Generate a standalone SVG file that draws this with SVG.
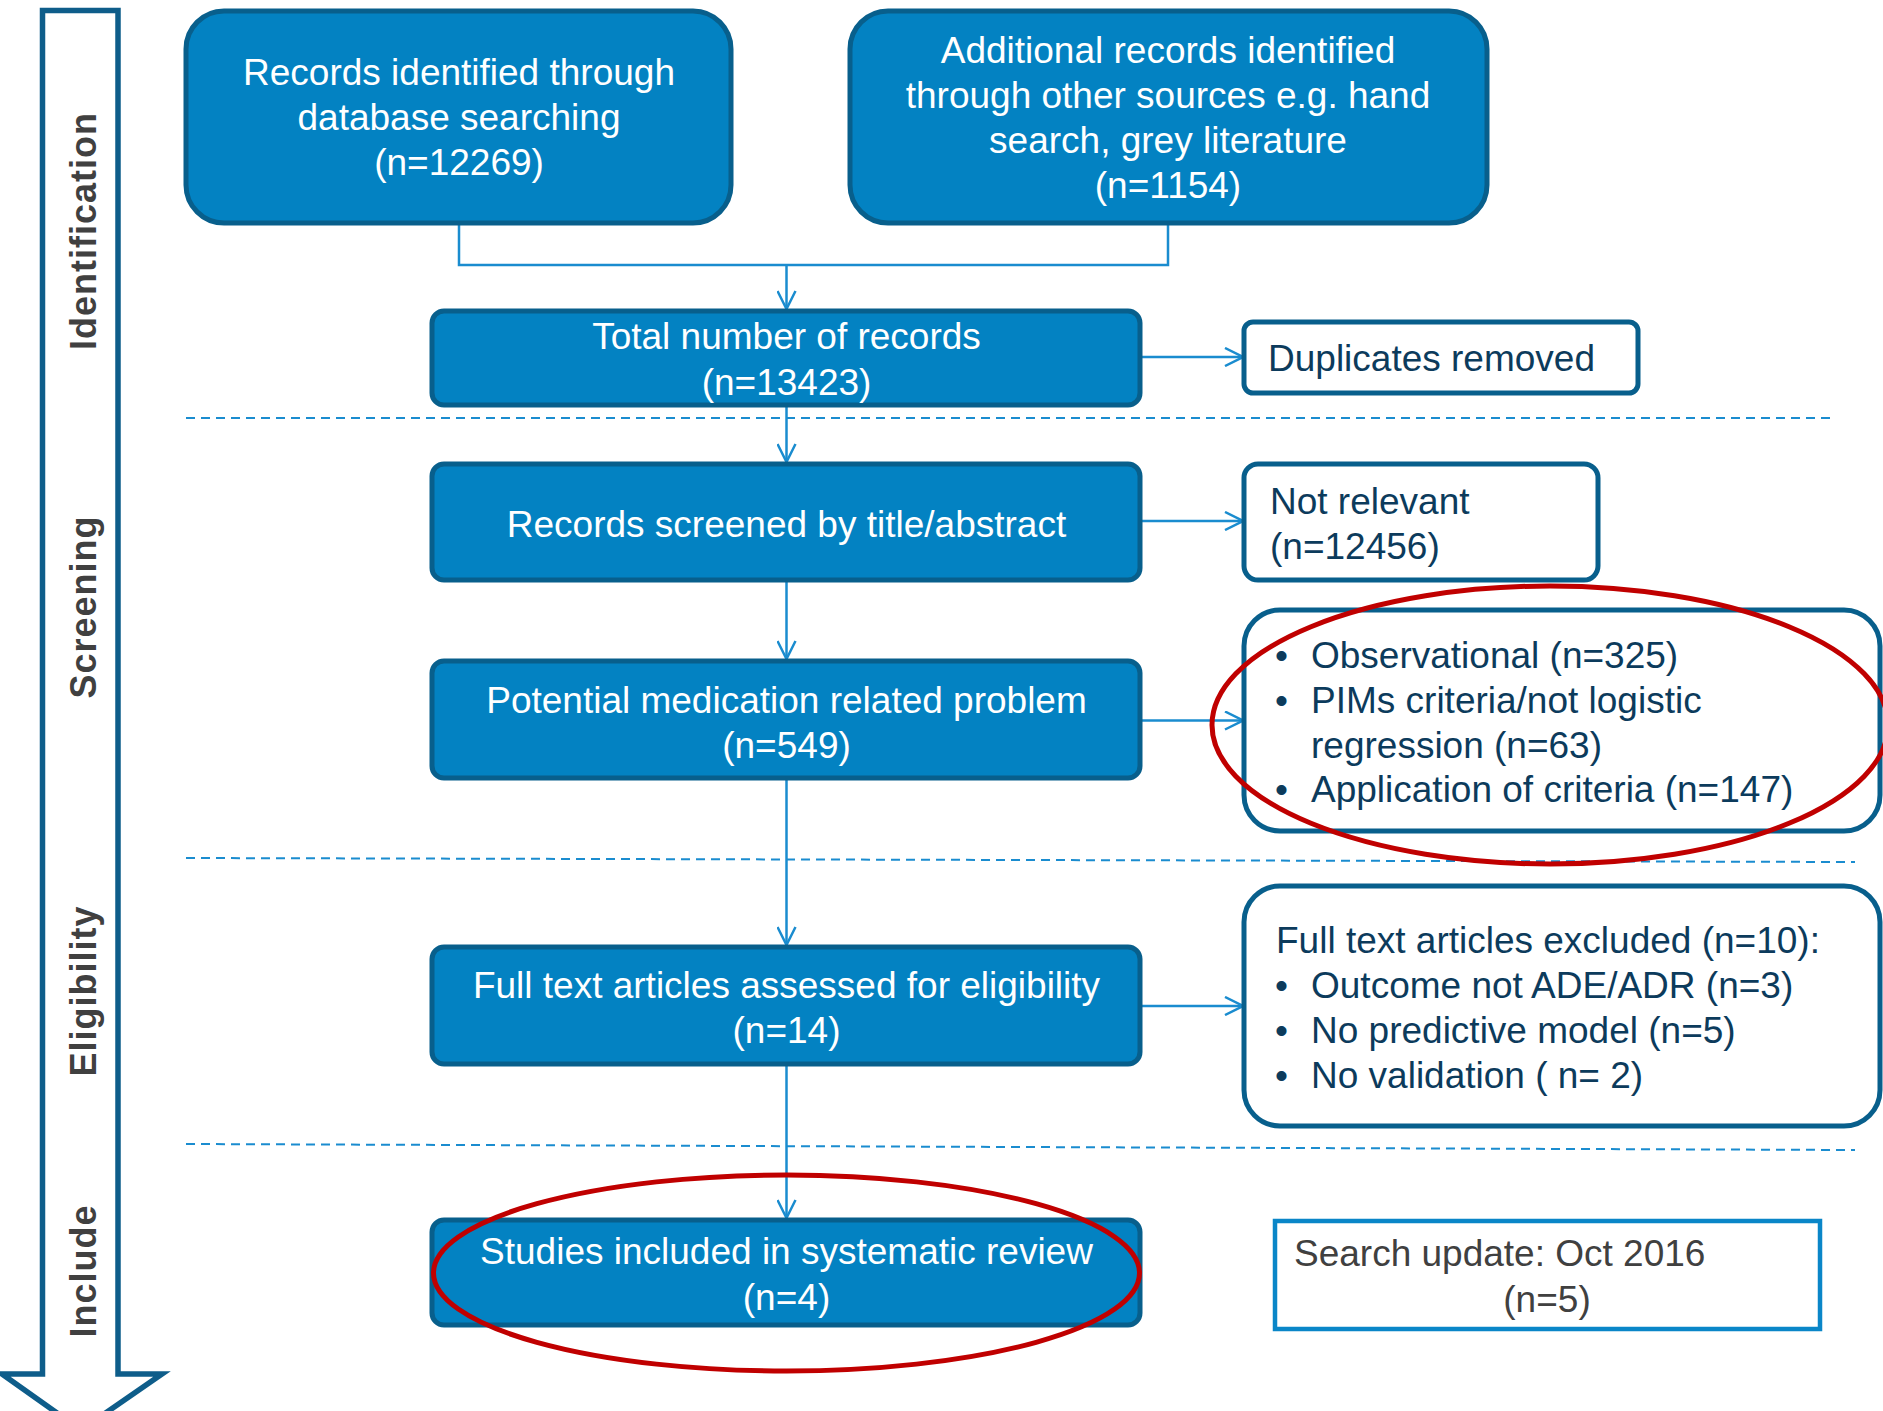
<svg xmlns="http://www.w3.org/2000/svg" width="1883" height="1411" viewBox="0 0 1883 1411">
<defs>
<style>
.bx{fill:#0382c2;stroke:#085f8c;stroke-width:5}
.wb{fill:#ffffff;stroke:#085f8c;stroke-width:5}
.wt{font-family:"Liberation Sans",Arial,sans-serif;font-size:37px;fill:#ffffff;text-anchor:middle}
.dt{font-family:"Liberation Sans",Arial,sans-serif;font-size:37px;fill:#0c3b5c}
.ph{font-family:"Liberation Sans",Arial,sans-serif;font-size:36px;font-weight:bold;fill:#404040;text-anchor:middle;letter-spacing:1px}
.cn{fill:none;stroke:#1a8ccf;stroke-width:2.5}
.ds{fill:none;stroke:#1a8ccf;stroke-width:2;stroke-dasharray:9 6}
.el{fill:none;stroke:#c00000;stroke-width:5}
</style>
<marker id="arr" viewBox="0 0 20 20" refX="19" refY="10" markerWidth="20" markerHeight="20" markerUnits="userSpaceOnUse" orient="auto">
<path d="M1,1 L19,10 L1,19" fill="none" stroke="#1a8ccf" stroke-width="2.5"/>
</marker>
</defs>
<rect width="1883" height="1411" fill="#ffffff"/>
<g id="phase-arrow">
<polygon points="42.5,10.5 118,10.5 118,1374 162,1374 81,1430 2,1374 42.5,1374" fill="#ffffff" stroke="#0e5d8a" stroke-width="5.5"/>
<text class="ph" transform="translate(96,231) rotate(-90)">Identification</text>
<text class="ph" transform="translate(96,607) rotate(-90)">Screening</text>
<text class="ph" transform="translate(96,991) rotate(-90)">Eligibility</text>
<text class="ph" transform="translate(96,1271) rotate(-90)">Include</text>
</g>
<g id="dividers">
<line class="ds" x1="186" y1="418" x2="1834" y2="418"/>
<line class="ds" x1="186" y1="858" x2="1855" y2="862"/>
<line class="ds" x1="186" y1="1144" x2="1855" y2="1150"/>
</g>
<g id="connectors">
<polyline class="cn" points="459,223 459,265 1168,265 1168,223"/>
<line class="cn" x1="786.5" y1="265" x2="786.5" y2="309" marker-end="url(#arr)"/>
<line class="cn" x1="786.5" y1="405" x2="786.5" y2="462" marker-end="url(#arr)"/>
<line class="cn" x1="786.5" y1="580" x2="786.5" y2="659" marker-end="url(#arr)"/>
<line class="cn" x1="786.5" y1="778" x2="786.5" y2="945" marker-end="url(#arr)"/>
<line class="cn" x1="786.5" y1="1064" x2="786.5" y2="1218" marker-end="url(#arr)"/>
<line class="cn" x1="1140" y1="357" x2="1243" y2="357" marker-end="url(#arr)"/>
<line class="cn" x1="1140" y1="521" x2="1243" y2="521" marker-end="url(#arr)"/>
<line class="cn" x1="1140" y1="720.5" x2="1243" y2="720.5" marker-end="url(#arr)"/>
<line class="cn" x1="1140" y1="1006" x2="1243" y2="1006" marker-end="url(#arr)"/>
</g>
<g id="n-database">
<rect class="bx" x="186" y="11" width="545" height="212" rx="38"/>
<text class="wt" x="459" y="85">Records identified through</text>
<text class="wt" x="459" y="130">database searching</text>
<text class="wt" x="459" y="175">(n=12269)</text>
</g>
<g id="n-other">
<rect class="bx" x="850" y="11" width="637" height="212" rx="38"/>
<text class="wt" x="1168" y="63">Additional records identified</text>
<text class="wt" x="1168" y="108">through other sources e.g. hand</text>
<text class="wt" x="1168" y="153">search, grey literature</text>
<text class="wt" x="1168" y="198">(n=1154)</text>
</g>
<g id="n-total">
<rect class="bx" x="432" y="311" width="708" height="94" rx="12"/>
<text class="wt" x="786.5" y="349">Total number of records</text>
<text class="wt" x="786.5" y="395">(n=13423)</text>
</g>
<g id="n-duplicates">
<rect class="wb" x="1244" y="322" width="394" height="71" rx="9"/>
<text class="dt" x="1268" y="371">Duplicates removed</text>
</g>
<g id="n-screened">
<rect class="bx" x="432" y="464" width="708" height="116" rx="12"/>
<text class="wt" x="786.5" y="537">Records screened by title/abstract</text>
</g>
<g id="n-notrelevant">
<rect class="wb" x="1244" y="464" width="354" height="116" rx="14"/>
<text class="dt" x="1270" y="514">Not relevant</text>
<text class="dt" x="1270" y="559">(n=12456)</text>
</g>
<g id="n-potential">
<rect class="bx" x="432" y="661" width="708" height="117" rx="12"/>
<text class="wt" x="786.5" y="713">Potential medication related problem</text>
<text class="wt" x="786.5" y="758">(n=549)</text>
</g>
<g id="n-excl1">
<rect class="wb" x="1244" y="610" width="636" height="221" rx="36"/>
<text class="dt" x="1275" y="668">•</text>
<text class="dt" x="1311" y="668">Observational (n=325)</text>
<text class="dt" x="1275" y="713">•</text>
<text class="dt" x="1311" y="713">PIMs criteria/not logistic</text>
<text class="dt" x="1311" y="758">regression (n=63)</text>
<text class="dt" x="1275" y="802">•</text>
<text class="dt" x="1311" y="802">Application of criteria (n=147)</text>
</g>
<g id="n-fulltext">
<rect class="bx" x="432" y="947" width="708" height="117" rx="12"/>
<text class="wt" x="786.5" y="998">Full text articles assessed for eligibility</text>
<text class="wt" x="786.5" y="1043">(n=14)</text>
</g>
<g id="n-excl2">
<rect class="wb" x="1244" y="886" width="636" height="240" rx="36"/>
<text class="dt" x="1276" y="953">Full text articles excluded (n=10):</text>
<text class="dt" x="1275" y="998">•</text>
<text class="dt" x="1311" y="998">Outcome not ADE/ADR (n=3)</text>
<text class="dt" x="1275" y="1043">•</text>
<text class="dt" x="1311" y="1043">No predictive model (n=5)</text>
<text class="dt" x="1275" y="1088">•</text>
<text class="dt" x="1311" y="1088">No validation ( n= 2)</text>
</g>
<g id="n-included">
<rect class="bx" x="432" y="1220" width="708" height="105" rx="12"/>
<text class="wt" x="786.5" y="1264">Studies included in systematic review</text>
<text class="wt" x="786.5" y="1310">(n=4)</text>
</g>
<g id="n-update">
<rect x="1275" y="1221" width="545" height="108" fill="#ffffff" stroke="#0a86c8" stroke-width="4.5"/>
<text class="dt" x="1294" y="1266" style="fill:#404040">Search update: Oct 2016</text>
<text class="dt" x="1547" y="1312" style="fill:#404040;text-anchor:middle">(n=5)</text>
</g>
<g id="highlights">
<ellipse class="el" cx="1550" cy="725" rx="338" ry="139"/>
<ellipse class="el" cx="786.5" cy="1273" rx="353" ry="98"/>
</g>
</svg>
